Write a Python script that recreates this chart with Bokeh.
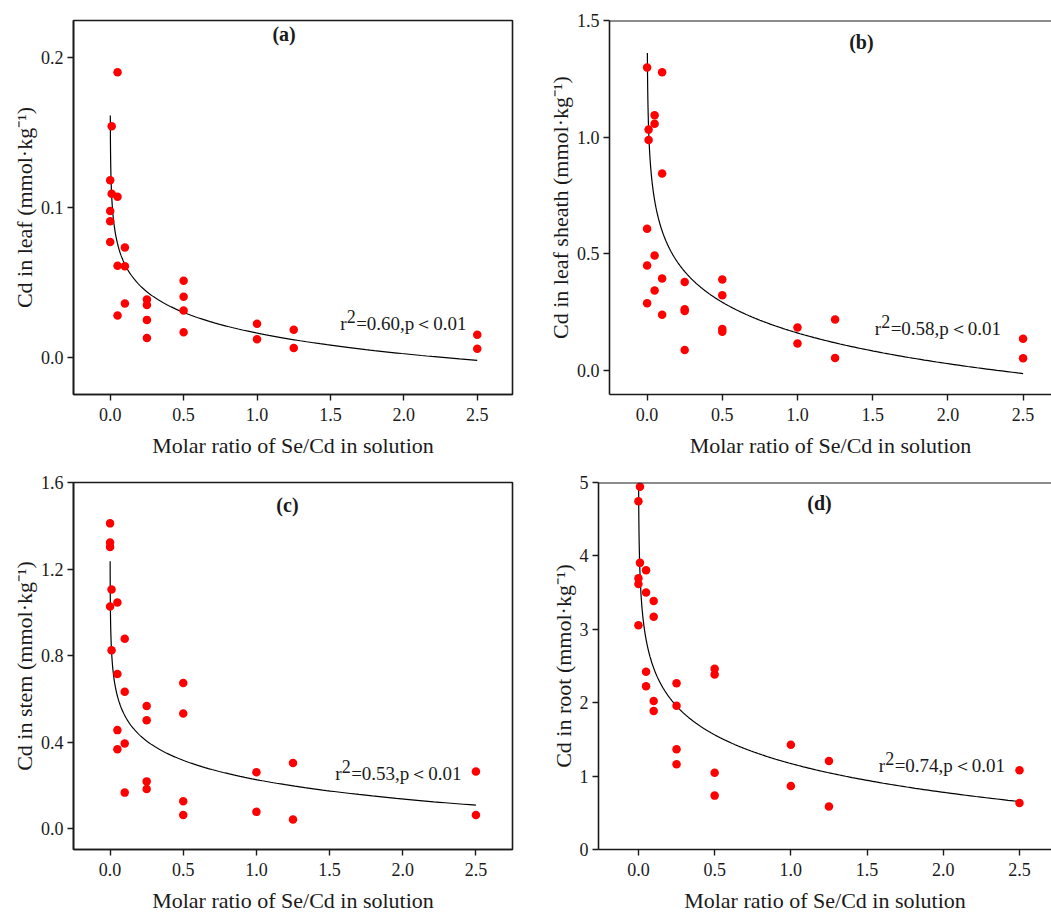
import numpy as np
from bokeh.plotting import figure
from bokeh.layouts import column, row
from bokeh.models import FixedTicker, NumeralTickFormatter, Span, Label
from bokeh.embed import file_html
from bokeh.resources import INLINE

# ---------------- data ----------------
x_label = "Molar ratio of Se/Cd in solution"
x_ticks = [0.0, 0.5, 1.0, 1.5, 2.0, 2.5]

# (a) leaf
a_x = [0.05, 0.01, 0, 0.01, 0.05, 0, 0, 0, 0.1, 0.05, 0.1, 0.1, 0.05,
       0.25, 0.25, 0.25, 0.25, 0.5, 0.5, 0.5, 0.5, 1.0, 1.0, 1.25, 1.25, 2.5, 2.5]
a_y = [0.190, 0.154, 0.118, 0.109, 0.107, 0.0975, 0.0907, 0.0768, 0.0731, 0.061, 0.0606, 0.0358, 0.0277,
       0.0384, 0.0347, 0.0248, 0.0127, 0.0509, 0.0402, 0.031, 0.0165, 0.0222, 0.0119, 0.0182, 0.0061, 0.0149, 0.0055]
a_fit = (0.016, -0.0199, 0.00068)   # intercept, slope of ln(x), first x of curve
a_yticks = [0.0, 0.1, 0.2]

# (b) leaf sheath
b_x = [0, 0.1, 0.05, 0.05, 0.01, 0.01, 0.1, 0, 0.05, 0, 0.1, 0.25, 0.5, 0.5, 0.05, 0,
       0.25, 0.25, 0.1, 0.5, 0.5, 0.25, 1.0, 1.0, 1.25, 1.25, 2.5, 2.5]
b_y = [1.298, 1.278, 1.094, 1.057, 1.032, 0.987, 0.844, 0.607, 0.492, 0.449, 0.394, 0.379, 0.389, 0.322, 0.342, 0.287,
       0.262, 0.254, 0.238, 0.177, 0.165, 0.087, 0.183, 0.115, 0.218, 0.053, 0.135, 0.051]
b_fit = (0.16, -0.19, 0.0018)
b_yticks = [0.0, 0.5, 1.0, 1.5]

# (c) stem
c_x = [0, 0, 0, 0.01, 0, 0.05, 0.1, 0.01, 0.05, 0.1, 0.25, 0.25, 0.5, 0.5, 0.05, 0.1, 0.05,
       0.25, 0.25, 0.1, 0.5, 0.5, 1.0, 1.0, 1.25, 1.25, 2.5, 2.5]
c_y = [1.411, 1.322, 1.302, 1.105, 1.027, 1.045, 0.878, 0.824, 0.715, 0.632, 0.566, 0.501, 0.673, 0.532, 0.455, 0.393, 0.366,
       0.218, 0.183, 0.166, 0.126, 0.063, 0.260, 0.077, 0.303, 0.0415, 0.264, 0.063]
c_fit = (0.226, -0.129, 0.0004)
c_yticks = [0.0, 0.4, 0.8, 1.2, 1.6]

# (d) root
d_x = [0.01, 0, 0.01, 0.05, 0, 0, 0.05, 0.1, 0.1, 0, 0.05, 0.05, 0.1, 0.1,
       0.25, 0.25, 0.25, 0.25, 0.5, 0.5, 0.5, 0.5, 1.0, 1.0, 1.25, 1.25, 2.5, 2.5]
d_y = [4.941, 4.743, 3.905, 3.806, 3.694, 3.617, 3.5, 3.387, 3.171, 3.054, 2.423, 2.225, 2.023, 1.887,
       2.266, 1.959, 1.365, 1.162, 2.464, 2.383, 1.045, 0.734, 1.428, 0.865, 1.207, 0.586, 1.081, 0.635]
d_fit = (1.171, -0.565, 0.00125)
d_yticks = [0, 1, 2, 3, 4, 5]

FONT = "Liberation Serif"
INK = "#1a1a1a"


def panel(xs, ys, fit, yticks, yfmt, ylabel, tag, r2, tag_pos, r2_pos,
          xr, yr, w, h, bl, br, bt, bb, full_box):
    p = figure(width=w, height=h, x_range=xr, y_range=yr,
               output_backend="svg", toolbar_location=None,
               min_border_left=bl, min_border_right=br,
               min_border_top=bt, min_border_bottom=bb,
               background_fill_color="white", border_fill_color="white")
    p.grid.visible = False
    if full_box:
        p.outline_line_color = INK
        p.outline_line_width = 1.6
    else:
        p.outline_line_color = None
        p.add_layout(Span(location=yr[1], dimension="width",
                          line_color=INK, line_width=2.2))

    for ax in (p.xaxis[0], p.yaxis[0]):
        ax.axis_line_color = INK
        ax.axis_line_width = 1.6
        ax.major_tick_line_color = INK
        ax.major_tick_line_width = 1.4
        ax.major_tick_in = 0
        ax.major_tick_out = 6
        ax.minor_tick_line_color = None
        ax.major_label_text_font = FONT
        ax.major_label_text_font_size = "18px"
        ax.major_label_text_color = INK
        ax.axis_label_text_font = FONT
        ax.axis_label_text_font_style = "normal"
        ax.axis_label_text_font_size = "22px"
        ax.axis_label_text_color = INK

    p.xaxis.ticker = FixedTicker(ticks=x_ticks)
    p.xaxis.formatter = NumeralTickFormatter(format="0.0")
    p.xaxis.axis_label = x_label
    p.xaxis.major_label_standoff = 7
    p.xaxis.axis_label_standoff = 9

    p.yaxis.ticker = FixedTicker(ticks=yticks)
    p.yaxis.formatter = NumeralTickFormatter(format=yfmt)
    p.yaxis.axis_label = ylabel
    p.yaxis.major_label_standoff = 4
    p.yaxis.axis_label_standoff = 1

    # fitted logarithmic curve
    intercept, slope, x0 = fit
    cx = np.geomspace(x0, 2.5, 500)
    cy = intercept + slope * np.log(cx)
    p.line(cx, cy, line_color="black", line_width=1.2)

    p.scatter(xs, ys, size=8.5, fill_color="#ff0000", line_color=None)

    p.add_layout(Label(x=tag_pos[0], y=tag_pos[1], text=tag, text_font=FONT,
                       text_font_style="bold", text_font_size="20px",
                       text_color=INK, text_align="center", text_baseline="middle"))
    rx, ry = r2_pos
    p.add_layout(Label(x=rx, y=ry, text="r", text_font=FONT, text_font_size="19px",
                       text_color=INK, text_align="left", text_baseline="alphabetic"))
    p.add_layout(Label(x=rx, y=ry, x_offset=6.5, y_offset=7, text="2", text_font=FONT,
                       text_font_size="18px", text_color=INK,
                       text_align="left", text_baseline="alphabetic"))
    p.add_layout(Label(x=rx, y=ry, x_offset=16, text="=" + r2 + ",p\uff1c0.01", text_font=FONT,
                       text_font_size="19px", text_color=INK,
                       text_align="left", text_baseline="alphabetic"))
    return p


pa = panel(a_x, a_y, a_fit, a_yticks, "0.0", "Cd in leaf (mmol\u00b7kg\u207b\u00b9)", "(a)", "0.60",
           (1.184, 0.2155), (1.566, 0.0222), (-0.25, 2.74), (-0.025, 0.2246),
           525, 460, 73, 13, 15, 66, True)
pb = panel(b_x, b_y, b_fit, b_yticks, "0.0", "Cd in leaf sheath (mmol\u00b7kg\u207b\u00b9)", "(b)", "0.58",
           (1.425, 1.408), (1.513, 0.181), (-0.25, 2.689), (-0.104, 1.5),
           526, 460, 84, 0, 20, 65, False)
pc = panel(c_x, c_y, c_fit, c_yticks, "0.0", "Cd in stem (mmol\u00b7kg\u207b\u00b9)", "(c)", "0.53",
           (1.212, 1.495), (1.538, 0.256), (-0.25, 2.75), (-0.097, 1.6),
           525, 455, 73, 13, 21, 66, True)
pd_ = panel(d_x, d_y, d_fit, d_yticks, "0", "Cd in root (mmol\u00b7kg\u207b\u00b9)", "(d)", "0.74",
            (1.188, 4.725), (1.576, 1.14), (-0.262, 2.71), (0, 5),
            526, 455, 73, 0, 22, 63, False)

layout = column(row(pa, pb, spacing=0), row(pc, pd_, spacing=0), spacing=0)

with open("out.html", "w") as f:
    f.write(file_html(layout, INLINE))
